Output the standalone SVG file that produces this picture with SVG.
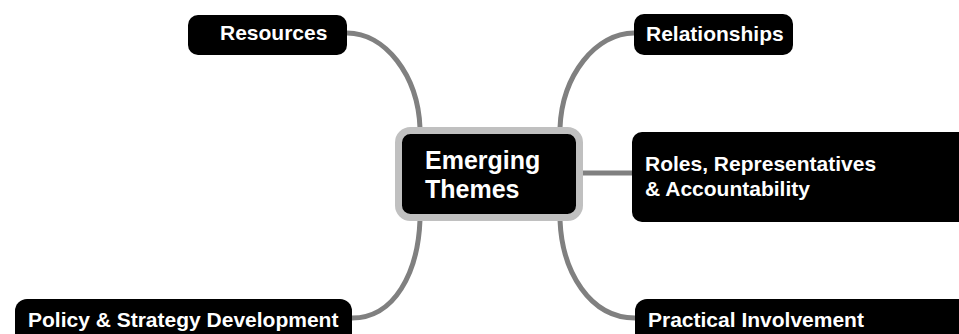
<svg xmlns="http://www.w3.org/2000/svg" width="959" height="334" viewBox="0 0 959 334">
<style>
.box{fill:#000}
.t{fill:#fff;font-family:"Liberation Sans",Arial,sans-serif;font-weight:bold;font-size:21px}
.tc{fill:#fff;font-family:"Liberation Sans",Arial,sans-serif;font-weight:bold;font-size:25px}
.c{fill:none;stroke:#808080;stroke-width:5}
</style>
<rect width="959" height="334" fill="#fff"/>
<g id="connectors">
<path class="c" d="M347,33 C385,33 418,75 420,128"/>
<path class="c" d="M634,33 C596,33 562,75 560,128"/>
<path class="c" d="M583,173 L632,173"/>
<path class="c" d="M352,318 C395,318 418,272 420,220"/>
<path class="c" d="M635,318 C590,318 562,272 560,220"/>
</g>
<g id="center">
<rect x="398.5" y="130.5" width="181" height="87" rx="12" fill="#000" stroke="#c0c0c0" stroke-width="7"/>
<text class="tc" x="425" y="169">Emerging</text>
<text class="tc" x="425" y="198">Themes</text>
</g>
<g id="resources">
<rect class="box" x="188" y="15" width="159" height="40" rx="10"/>
<text class="t" x="220" y="40">Resources</text>
</g>
<g id="relationships">
<rect class="box" x="634" y="14" width="159" height="41" rx="10"/>
<text class="t" x="646" y="41">Relationships</text>
</g>
<g id="roles">
<rect class="box" x="632" y="132" width="340" height="90" rx="10"/>
<text class="t" x="645" y="171">Roles, Representatives</text>
<text class="t" x="645" y="196">&amp; Accountability</text>
</g>
<g id="policy">
<rect class="box" x="15" y="299" width="337" height="50" rx="12"/>
<text class="t" x="28" y="327">Policy &amp; Strategy Development</text>
</g>
<g id="practical">
<rect class="box" x="635" y="299" width="340" height="50" rx="12"/>
<text class="t" x="648" y="327">Practical Involvement</text>
</g>
</svg>
